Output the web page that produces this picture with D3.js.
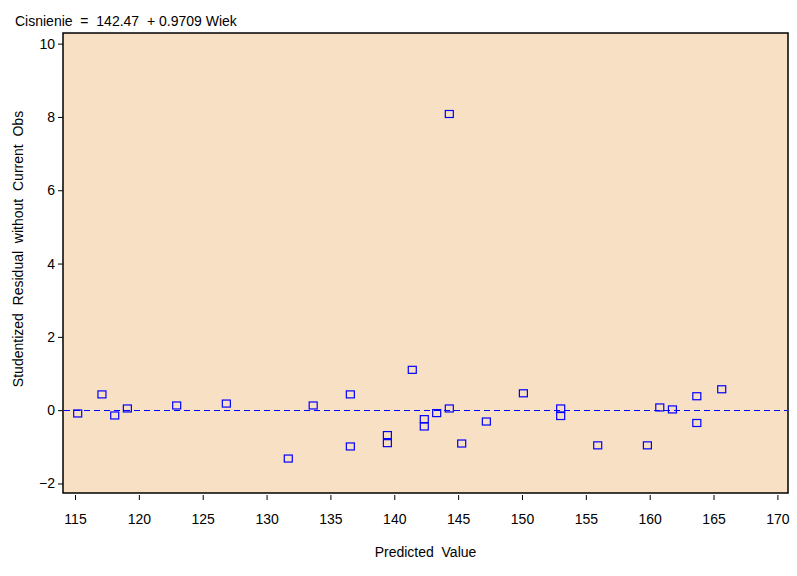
<!DOCTYPE html>
<html lang="en">
<head>
  <meta charset="utf-8"/>
  <title>Studentized Residual vs Predicted Value</title>
  <style>
    body { margin: 0; background: #fff; }
    text { font-family: "Liberation Sans", Arial, sans-serif; fill: #000; }
  </style>
</head>
<body>
<div id="chart"></div>

<script src="https://cdn.jsdelivr.net/npm/d3@7/dist/d3.min.js"></script>
<script>

  // predicted value vs studentized residual
  let predicted = [
    115.21, 117.11, 118.11, 119.10, 122.96, 126.85, 131.70, 133.65, 136.56, 136.56,
    139.46, 139.46, 141.41, 142.35, 142.35, 143.32, 144.31, 144.31, 145.28, 147.21,
    150.11, 153.03, 153.03, 155.93, 159.82, 160.79, 161.78, 163.69, 163.69, 165.64
  ];
  let rstudent = [
    -0.09, 0.43, -0.145, 0.046, 0.128, 0.18, -1.32, 0.128, 0.43, -0.99,
    -0.68, -0.90, 1.10, -0.245, -0.445, -0.08, 0.046, 8.08, -0.91, -0.31,
    0.46, 0.046, -0.16, -0.96, -0.96, 0.074, 0.02, 0.38, -0.35, 0.57
  ];
  let xTicks = [115, 120, 125, 130, 135, 140, 145, 150, 155, 160, 165, 170];
  let yTicks = [-2, 0, 2, 4, 6, 8, 10];

  let title = 'Cisnienie  =  142.47  + 0.9709 Wiek';
  let xTitle = 'Predicted  Value';
  let yTitle = 'Studentized  Residual  without  Current  Obs';

  let width = 797, height = 576;
  let frame = {left: 63, right: 788, top: 33, bottom: 493};

  let svg = d3.select('#chart')
    .append('svg')
    .attr('width', width)
    .attr('height', height);

  let x = d3.scaleLinear()
    .domain([114.06, 170.83])
    .range([frame.left, frame.right]);

  let y = d3.scaleLinear()
    .domain([-2.26, 10.29])
    .range([frame.bottom, frame.top]);

  // plot background
  svg.append('rect')
    .attr('x', frame.left)
    .attr('y', frame.top)
    .attr('width', frame.right - frame.left)
    .attr('height', frame.bottom - frame.top)
    .attr('fill', '#f8e0c4')
    .attr('stroke', '#000')
    .attr('stroke-width', 1.5);

  // reference line at zero
  svg.append('line')
    .attr('x1', frame.left + 1)
    .attr('x2', frame.right - 1)
    .attr('y1', Math.round(y(0)) + 0.5)
    .attr('y2', Math.round(y(0)) + 0.5)
    .attr('stroke', '#0000ff')
    .attr('stroke-width', 1)
    .attr('stroke-dasharray', '6,4');

  // x axis (ticks below frame, no domain line)
  let xAxis = svg.append('g')
    .attr('transform', `translate(0,${frame.bottom + 2})`)
    .call(d3.axisBottom(x).tickValues(xTicks).tickSize(5).tickPadding(14));
  xAxis.select('.domain').remove();
  xAxis.selectAll('text')
    .attr('font-size', 14)
    .attr('font-family', '"Liberation Sans Narrow", "Liberation Sans", Arial, sans-serif');

  // y axis
  let yAxis = svg.append('g')
    .attr('transform', `translate(${frame.left},0)`)
    .call(d3.axisLeft(y).tickValues(yTicks).tickSize(5).tickPadding(3)
      .tickFormat(d => d < 0 ? '\u2212' + Math.abs(d) : d));
  yAxis.select('.domain').remove();
  yAxis.selectAll('text')
    .attr('font-size', 14)
    .attr('font-family', '"Liberation Sans Narrow", "Liberation Sans", Arial, sans-serif');

  // markers
  svg.append('g')
    .selectAll('rect')
    .data(predicted.map((p, i) => ({p: p, r: rstudent[i]})))
    .enter()
    .append('rect')
    .attr('x', d => x(d.p) - 4)
    .attr('y', d => y(d.r) - 3.5)
    .attr('width', 8)
    .attr('height', 7)
    .attr('fill', 'none')
    .attr('stroke', '#0000ff')
    .attr('stroke-width', 1.2);

  // titles
  svg.append('text')
    .attr('x', 15)
    .attr('y', 26)
    .attr('font-size', 14)
    .style('white-space', 'pre')
    .text(title);

  svg.append('text')
    .attr('x', (frame.left + frame.right) / 2)
    .attr('y', 557)
    .attr('text-anchor', 'middle')
    .attr('font-size', 14)
    .style('white-space', 'pre')
    .text(xTitle);

  svg.append('text')
    .attr('transform', 'translate(23,249) rotate(-90)')
    .attr('text-anchor', 'middle')
    .attr('font-size', 14)
    .style('white-space', 'pre')
    .text(yTitle);

</script>
</body>
</html>
